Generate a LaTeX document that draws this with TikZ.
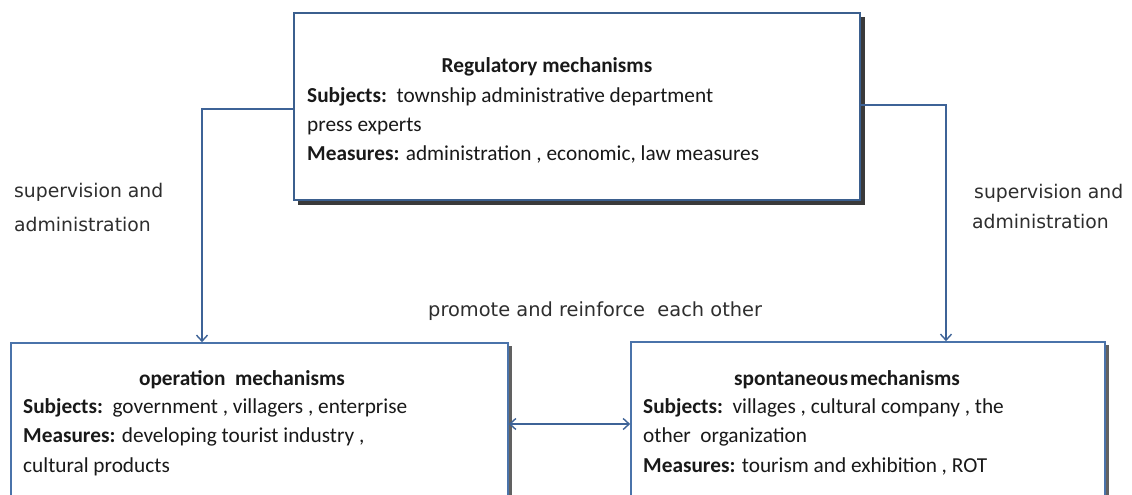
\documentclass[tikz,border=0pt]{standalone}
\usepackage{fontspec}
\setmainfont{Carlito}
\newfontfamily\labelfont{DejaVu Sans}
\usetikzlibrary{arrows.meta}
\definecolor{boxblue}{HTML}{4A73AA}
\definecolor{topblue}{HTML}{3B5F8E}
\definecolor{arrblue}{HTML}{3E6397}
\definecolor{shadowgray}{HTML}{3A3A3A}
\definecolor{labelgray}{HTML}{2E2E2E}
\tikzset{
  mbox/.style={draw=boxblue, line width=1.6pt, rectangle, inner sep=0pt},
  topbox/.style={draw=topblue, line width=2.2pt, rectangle, inner sep=0pt},
  boxtext/.style={anchor=base west, inner sep=0pt, font=\fontsize{21.3pt}{25pt}\selectfont, text=black!90},
  boxtitle/.style={anchor=base, inner sep=0pt, font=\fontsize{21.3pt}{25pt}\selectfont\bfseries, text=black!90},
  lbl/.style={anchor=base west, inner sep=0pt, font=\labelfont\fontsize{18.8pt}{22pt}\selectfont, text=labelgray},
  conn/.style={draw=arrblue, line width=1.4pt, -{Straight Barb[length=6pt,width=11pt,line width=1.4pt]}},
  dconn/.style={draw=arrblue, line width=1.4pt, {Straight Barb[length=6pt,width=11pt,line width=1.4pt]}-{Straight Barb[length=6pt,width=11pt,line width=1.4pt]}}
}
\begin{document}
\begin{tikzpicture}[x=1pt,y=-1pt]
\useasboundingbox (0,0) rectangle (1132,495);
\clip (0,0) rectangle (1132,495);
\fill[white] (0,0) rectangle (1132,495);
% shadows
\fill[shadowgray] (298,17) rectangle (865,205);
\fill[shadowgray!80] (14,346) rectangle (511.5,510);
\fill[shadowgray!80] (634,345) rectangle (1108.5,510);
% boxes
\node[topbox, fill=white, minimum width=566pt, minimum height=187pt] (top) at (577,106.5) {};
\node[mbox, fill=white, minimum width=497pt, minimum height=170pt] (left) at (259.5,428) {};
\node[mbox, fill=white, minimum width=474pt, minimum height=171pt] (right) at (868,427.5) {};
% top text
\node[boxtitle] (t1) at (547,72) {Regulatory mechanisms};
\node[boxtext] (t2) at (307,102) {\textbf{Subjects:}\ \ township administrative department};
\node[boxtext] (t3) at (307,131) {press experts};
\node[boxtext] (t4) at (307,160) {\textbf{Measures:} administration , economic, law measures};
% left text
\node[boxtitle] (l1) at (242,385) {operation\ \ mechanisms};
\node[boxtext] (l2) at (23,413) {\textbf{Subjects:}\ \ government , villagers , enterprise};
\node[boxtext] (l3) at (23,442) {\textbf{Measures:} developing tourist industry ,};
\node[boxtext] (l4) at (23,472) {cultural products};
% right text
\node[boxtitle] (r1) at (847,385) {spontaneous\hspace{2pt}mechanisms};
\node[boxtext] (r2) at (643,413) {\textbf{Subjects:}\ \ villages , cultural company , the};
\node[boxtext] (r3) at (643,442) {other\ \ organization};
\node[boxtext] (r4) at (643,472) {\textbf{Measures:} tourism and exhibition , ROT};
% labels
\node[lbl] (sl1) at (14,197) {supervision and};
\node[lbl] (sl2) at (14,231) {administration};
\node[lbl] (sr1) at (974,198) {supervision and};
\node[lbl] (sr2) at (972,228) {administration};
\node[lbl, font=\labelfont\fontsize{19.4pt}{22pt}\selectfont] (pm) at (428,316) {promote and reinforce\ \ each other};
% connectors
\coordinate (lc) at (202,109);
\coordinate (rc) at (946,105);
\draw[conn] (top.west |- lc) -- (lc) -- (lc |- left.north);
\draw[conn] (top.east |- rc) -- (rc) -- (rc |- right.north);
\draw[dconn] (left.east |- 0,424) -- (right.west |- 0,424);
\end{tikzpicture}
\end{document}
